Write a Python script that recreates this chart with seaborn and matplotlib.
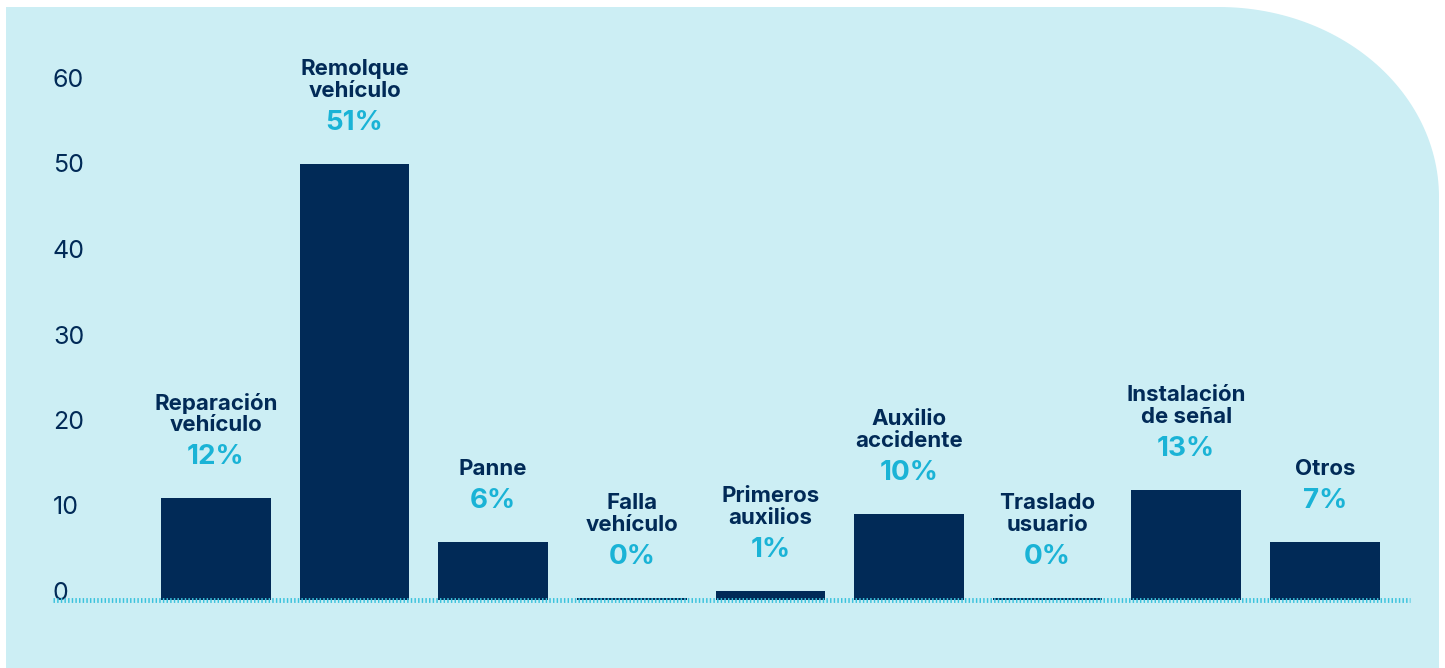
import numpy as np
import matplotlib.pyplot as plt
from matplotlib.patches import Polygon
import seaborn as sns

# data
categorias = ["Reparación\nvehículo", "Remolque\nvehículo", "Panne", "Falla\nvehículo",
              "Primeros\nauxilios", "Auxilio\naccidente", "Traslado\nusuario",
              "Instalación\nde señal", "Otros"]
valores = [11.9, 51.0, 6.8, 0.25, 1.1, 10.1, 0.25, 12.9, 6.8]
porcentajes = ["12%", "51%", "6%", "0%", "1%", "10%", "0%", "13%", "7%"]
y_ticks = [0, 10, 20, 30, 40, 50, 60]

NAVY = "#012a57"
CYAN = "#1ab3d6"
PANEL = "#cceef4"

sns.set_style("white")
plt.rcParams['font.family'] = ['Inter', 'Roboto', 'DejaVu Sans']

W, H = 1445, 668
fig = plt.figure(figsize=(W / 100, H / 100), dpi=100)
fig.patch.set_facecolor("white")

# background panel with rounded top-right corner (pixel coords -> figure fraction)
rx, ry = 220, 190
cx, cy = 1439 - rx, 7 + ry
t = np.linspace(np.pi / 2, 0, 60)
arc = [(cx + rx * np.cos(a), cy - ry * np.sin(a)) for a in t]
pts = [(6, 668), (6, 7)] + arc + [(1439, 668)]
pts = [(x / W, (H - y) / H) for x, y in pts]
fig.patches.append(Polygon(pts, closed=True, transform=fig.transFigure,
                           facecolor=PANEL, edgecolor="none", zorder=-10))

ax = fig.add_axes([53 / W, 68 / H, 1357 / W, 513 / H])
ax.set_facecolor("none")

sns.barplot(x=list(range(len(categorias))), y=valores, color=NAVY, saturation=1,
            width=0.79, linewidth=0, ax=ax, zorder=2)

ax.set_xlim(-1.176, 8.615)
ax.set_ylim(0, 60)
ax.set_yticks(y_ticks)
ax.set_yticklabels([str(v) for v in y_ticks])
ax.set_xticks([])
ax.tick_params(axis="y", length=0, pad=0, labelsize=18, labelcolor=NAVY)
for lab in ax.get_yticklabels():
    lab.set_ha("left")
    lab.set_va("baseline")
for s in ax.spines.values():
    s.set_visible(False)
ax.set_xlabel("")
ax.set_ylabel("")

# dotted baseline
ax.axhline(0, color="#3cc3dd", lw=3.5, linestyle=(0, (0.3, 0.45)), zorder=3, clip_on=False)

px = 72 / 100  # points per pixel
for i, (cat, v, p) in enumerate(zip(categorias, valores, porcentajes)):
    ax.annotate(p, xy=(i, v), xytext=(0, 34 * px), textcoords="offset points",
                ha="center", va="baseline", fontsize=20, fontweight="bold",
                color=CYAN, annotation_clip=False)
    ax.annotate(cat, xy=(i, v), xytext=(0, 67 * px), textcoords="offset points",
                ha="center", va="baseline", fontsize=16, fontweight="bold",
                color=NAVY, linespacing=1.1, annotation_clip=False)

fig.savefig("out.png", dpi=100, facecolor=fig.get_facecolor())
